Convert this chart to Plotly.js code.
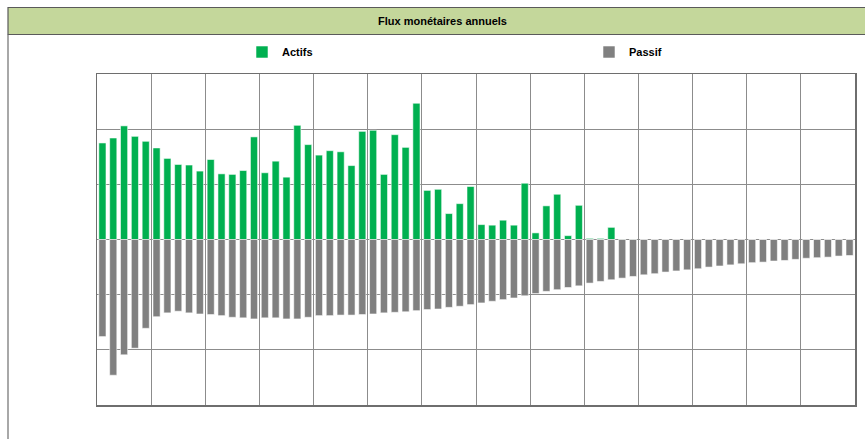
<!DOCTYPE html>
<html>
<head>
<meta charset="utf-8">
<script src="https://cdn.plot.ly/plotly-3.0.1.min.js"></script>
<style>html,body{margin:0;padding:0;background:#fff;}#chart{width:865px;height:439px;}</style>
</head>
<body>
<div id="chart"></div>
<script>
const periods = [1,2,3,4,5,6,7,8,9,10,11,12,13,14,15,16,17,18,19,20,
21,22,23,24,25,26,27,28,29,30,31,32,33,34,35,36,37,38,39,40,
41,42,43,44,45,46,47,48,49,50,51,52,53,54,55,56,57,58,59,60,
61,62,63,64,65,66,67,68,69,70];

const actifs = [1.75,1.84,2.06,1.87,1.78,1.66,1.47,1.36,1.35,1.24,
1.45,1.19,1.18,1.25,1.86,1.21,1.42,1.13,2.07,1.72,
1.53,1.61,1.59,1.34,1.96,1.98,1.18,1.90,1.67,2.47,
0.89,0.91,0.47,0.65,0.96,0.27,0.26,0.35,0.26,1.02,
0.12,0.61,0.82,0.07,0.62,0.02,0.02,0.22,0.005,0.005,
0,0,0,0,0,0,0,0,0,0,0,0,0,0,0,0,0,0,0,0];

const passif = [-1.76,-2.46,-2.09,-1.97,-1.61,-1.40,-1.33,-1.30,-1.33,-1.35,
-1.36,-1.38,-1.41,-1.42,-1.44,-1.42,-1.42,-1.44,-1.44,-1.41,
-1.38,-1.38,-1.37,-1.37,-1.36,-1.35,-1.33,-1.32,-1.31,-1.29,
-1.27,-1.26,-1.23,-1.21,-1.18,-1.15,-1.12,-1.09,-1.06,-1.02,
-0.98,-0.94,-0.91,-0.87,-0.84,-0.79,-0.76,-0.73,-0.70,-0.67,
-0.64,-0.62,-0.59,-0.57,-0.55,-0.53,-0.50,-0.48,-0.46,-0.44,
-0.42,-0.41,-0.39,-0.38,-0.36,-0.34,-0.33,-0.32,-0.30,-0.29];

const W = 865, H = 439;
const L = 97, R = 855, T = 74, B = 405;
const px = x => (x - L) / (R - L);
const py = y => (B - y) / (B - T);

const FONT = '"Liberation Sans Narrow", "Liberation Sans", Arial, sans-serif';

const traces = [
  {type:'bar', name:'Actifs', x:periods, y:actifs, width:0.66,
   marker:{color:'#00B050', line:{color:'rgba(255,255,255,0.55)', width:1}}},
  {type:'bar', name:'Passif', x:periods, y:passif, width:0.66,
   marker:{color:'#808080', line:{color:'rgba(255,255,255,0.55)', width:1}}}
];

const layout = {
  width: W, height: H,
  margin: {l: L, r: W - R, t: T, b: H - B, pad: 0},
  paper_bgcolor: '#ffffff', plot_bgcolor: '#ffffff',
  barmode: 'relative',
  showlegend: true,
  legend: {orientation:'h', xref:'container', yref:'container', x: 242/W, y: 1 - 52/H,
           yanchor:'middle', xanchor:'left',
           entrywidth: 302, entrywidthmode:'pixels', itemwidth:30,
           font:{family:FONT, size:11, color:'#000', weight:'bold'}, bgcolor:'rgba(0,0,0,0)', itemclick:false},
  xaxis: {range:[0.5, 70.5], tick0:0.5, dtick:5, showticklabels:false, ticks:'',
          showgrid:true, gridcolor:'#8c8c8c', gridwidth:1, zeroline:false,
          showline:true, mirror:true, linecolor:'#6e6e6e', linewidth:1.5, fixedrange:true},
  yaxis: {range:[-3, 3], dtick:1, showticklabels:false, ticks:'',
          showgrid:true, gridcolor:'#8c8c8c', gridwidth:1, zeroline:true, zerolinecolor:'#8c8c8c', zerolinewidth:1,
          showline:true, mirror:true, linecolor:'#6e6e6e', linewidth:1.5, fixedrange:true},
  shapes: [
    {type:'rect', xref:'paper', yref:'paper', x0:px(8), x1:px(872), y0:py(34.5), y1:py(7.5),
     fillcolor:'#C4D79B', line:{color:'#5a5a5a', width:1.2}, layer:'below'},
    {type:'line', xref:'paper', yref:'paper', x0:px(8), x1:px(8), y0:py(34.5), y1:py(445),
     line:{color:'#6e6e6e', width:1.2}}
  ],
  annotations: [
    {xref:'paper', yref:'paper', x:px(442), y:py(21), text:'<b>Flux monétaires annuels</b>',
     showarrow:false, xanchor:'center', yanchor:'middle',
     font:{family:FONT, size:11, color:'#000'}}
  ]
};

Plotly.newPlot('chart', traces, layout, {displayModeBar:false, staticPlot:true});
</script>
</body>
</html>
